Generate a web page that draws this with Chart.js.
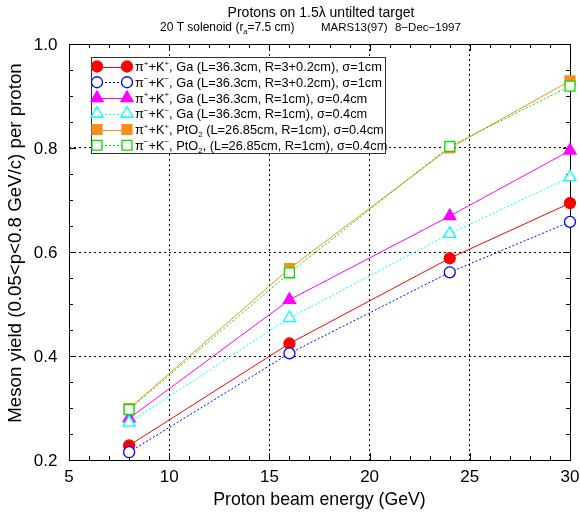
<!DOCTYPE html>
<html>
<head>
  <title>Meson yield vs proton energy</title>
  <script src="https://cdn.jsdelivr.net/npm/chart.js"></script>
  <style>body { margin: 0; background: #fff; }</style>
</head>
<body>
  <canvas id="chart" width="580" height="515"></canvas>
  <script>
    // proton beam energy (GeV)
    const energy = [8, 16, 24, 30];
    // meson yield per proton, 0.05<p<0.8 GeV/c
    const gaPosR3 = [0.228, 0.424, 0.588, 0.694];
    const gaNegR3 = [0.215, 0.405, 0.561, 0.658];
    const gaPosR1 = [0.280, 0.508, 0.669, 0.795];
    const gaNegR1 = [0.272, 0.473, 0.635, 0.744];
    const ptoPos = [0.299, 0.568, 0.800, 0.929];
    const ptoNeg = [0.297, 0.560, 0.803, 0.919];
    const seriesLabels = [
      'π^{+}+K^{+}, Ga (L=36.3cm, R=3+0.2cm), σ=1cm',
      'π^{−}+K^{−}, Ga (L=36.3cm, R=3+0.2cm), σ=1cm',
      'π^{+}+K^{+}, Ga (L=36.3cm, R=1cm), σ=0.4cm',
      'π^{−}+K^{−}, Ga (L=36.3cm, R=1cm), σ=0.4cm',
      'π^{+}+K^{+}, PtO_{2} (L=26.85cm, R=1cm), σ=0.4cm',
      'π^{−}+K^{−}, PtO_{2}, (L=26.85cm, R=1cm), σ=0.4cm'
    ];
    const xTicks = [5, 10, 15, 20, 25, 30];
    const yTicks = [0.2, 0.4, 0.6, 0.8, 1.0];
    const title1 = 'Protons on 1.5λ untilted target';
    const title2 = '20 T solenoid (r_{a}=7.5 cm)';
    const title3 = 'MARS13(97)';
    const title4 = '8−Dec−1997';
    const xTitle = 'Proton beam energy (GeV)';
    const yTitle = 'Meson yield (0.05<p<0.8 GeV/c) per proton';

    const series = [gaPosR3, gaNegR3, gaPosR1, gaNegR1, ptoPos, ptoNeg];
    const styles = [
      { color: '#ff0000', fill: '#ff0000', shape: 'circle', r: 5.5, dash: [] },
      { color: '#0000ff', fill: '#ffffff', shape: 'circle', r: 5.5, dash: [2, 2] },
      { color: '#ff00ff', fill: '#ff00ff', shape: 'triangle', r: 7, dash: [] },
      { color: '#00ffff', fill: '#ffffff', shape: 'triangle', r: 7, dash: [2, 2] },
      { color: '#f98e1d', fill: '#f98e1d', shape: 'rect', r: 7, dash: [] },
      { color: '#00e000', fill: '#ffffff', shape: 'rect', r: 7, dash: [2, 2] }
    ];
    const FONT = "'Liberation Sans', Arial, Helvetica, sans-serif";

    // text with ^{sup} and _{sub} pieces, optionally rotated
    function parseRich(s) {
      const out = [];
      const re = /([\^_])\{([^}]*)\}/g;
      let last = 0, m;
      while ((m = re.exec(s))) {
        if (m.index > last) out.push({ t: s.slice(last, m.index), k: 0 });
        out.push({ t: m[2], k: m[1] === '^' ? 1 : -1 });
        last = re.lastIndex;
      }
      if (last < s.length) out.push({ t: s.slice(last), k: 0 });
      return out;
    }
    function drawRich(ctx, s, x, y, size, opt) {
      const o = Object.assign({ align: 'left', rot: 0 }, opt);
      const parts = parseRich(s);
      const fontFor = k => (k ? size * 0.62 : size) + 'px ' + FONT;
      ctx.save();
      ctx.translate(x, y);
      if (o.rot) ctx.rotate(o.rot);
      let w = 0;
      parts.forEach(p => { ctx.font = fontFor(p.k); p.w = ctx.measureText(p.t).width; w += p.w; });
      let cx = o.align === 'center' ? -w / 2 : o.align === 'right' ? -w : 0;
      ctx.fillStyle = '#000';
      ctx.textBaseline = 'alphabetic';
      parts.forEach(p => {
        ctx.font = fontFor(p.k);
        const dy = p.k > 0 ? -size * 0.42 : p.k < 0 ? size * 0.25 : 0;
        ctx.fillText(p.t, cx, dy);
        cx += p.w;
      });
      ctx.restore();
    }

    function drawMarker(ctx, st, x, y) {
      ctx.save();
      ctx.fillStyle = st.fill;
      ctx.strokeStyle = st.color;
      ctx.lineWidth = 1.3;
      ctx.setLineDash([]);
      Chart.helpers.drawPoint(ctx, { pointStyle: st.shape, radius: st.r, rotation: 0, borderWidth: 1.3 }, x, y);
      ctx.restore();
    }

    // box around the plot with inward minor/major ticks, labels, titles and key
    const framePlugin = {
      id: 'frame',
      beforeDatasetsDraw(chart) {
        const { ctx, chartArea: a, scales: { x, y } } = chart;
        ctx.save();
        ctx.strokeStyle = '#000';
        ctx.lineWidth = 1;
        ctx.beginPath();
        for (let v = 5; v <= 30; v++) {
          const px = Math.round(x.getPixelForValue(v)) + 0.5;
          const len = v % 5 === 0 ? 7 : 4;
          ctx.moveTo(px, a.bottom); ctx.lineTo(px, a.bottom - len);
          ctx.moveTo(px, a.top); ctx.lineTo(px, a.top + len);
        }
        for (let i = 0; i <= 16; i++) {
          const v = 0.2 + i * 0.05;
          const py = Math.round(y.getPixelForValue(v)) + 0.5;
          const len = i % 4 === 0 ? 7 : 4;
          ctx.moveTo(a.left, py); ctx.lineTo(a.left + len, py);
          ctx.moveTo(a.right, py); ctx.lineTo(a.right - len, py);
        }
        ctx.stroke();
        ctx.strokeRect(Math.round(a.left) + 0.5, Math.round(a.top) + 0.5,
          Math.round(a.right - a.left), Math.round(a.bottom - a.top));
        ctx.restore();
      },
      afterDraw(chart) {
        const { ctx, scales: { x, y } } = chart;
        // tick labels
        xTicks.forEach(v => drawRich(ctx, String(v), x.getPixelForValue(v), 482, 17, { align: 'center' }));
        yTicks.forEach(v => drawRich(ctx, v.toFixed(1), 57.5, y.getPixelForValue(v) + 6, 17, { align: 'right' }));
        // axis titles
        drawRich(ctx, xTitle, 319.5, 505, 17.7, { align: 'center' });
        drawRich(ctx, yTitle, 21, 243, 18.7, { align: 'center', rot: -Math.PI / 2 });
        // titles
        drawRich(ctx, title1, 321, 17, 14, { align: 'center' });
        drawRich(ctx, title2, 160, 31, 12);
        drawRich(ctx, title3, 321, 31, 11.5);
        drawRich(ctx, title4, 395, 31, 11.5);

        // key
        ctx.save();
        ctx.fillStyle = '#fff';
        ctx.fillRect(91, 57, 294, 96);
        ctx.strokeStyle = '#333';
        ctx.lineWidth = 1;
        ctx.strokeRect(91.5, 57.5, 294, 96);
        chart.data.datasets.forEach((ds, i) => {
          const st = styles[i];
          const cy = 66.5 + i * 15.75;
          ctx.strokeStyle = st.color;
          ctx.lineWidth = 1;
          ctx.setLineDash(st.dash);
          ctx.beginPath();
          ctx.moveTo(97, Math.round(cy) + 0.5);
          ctx.lineTo(127, Math.round(cy) + 0.5);
          ctx.stroke();
          drawMarker(ctx, st, 97, cy);
          drawMarker(ctx, st, 127, cy);
          drawRich(ctx, ds.label, 135, cy + 4.5, 12.8);
        });
        ctx.restore();
      }
    };

    const datasets = series.map((vals, i) => ({
      label: seriesLabels[i],
      data: energy.map((e, j) => ({ x: e, y: vals[j] })),
      borderColor: styles[i].color,
      backgroundColor: styles[i].fill,
      borderWidth: 1,
      borderDash: styles[i].dash,
      pointStyle: styles[i].shape,
      pointRadius: styles[i].r,
      pointBorderWidth: 1.3,
      pointBorderColor: styles[i].color,
      pointBackgroundColor: styles[i].fill,
      tension: 0,
      fill: false,
      clip: false,
      order: series.length - i
    }));

    new Chart(document.getElementById('chart'), {
      type: 'line',
      data: { datasets },
      options: {
        responsive: false,
        animation: false,
        devicePixelRatio: 1,
        layout: { padding: { top: 44, right: 10, left: 0, bottom: 0 } },
        plugins: { legend: { display: false }, tooltip: { enabled: false } },
        scales: {
          x: {
            type: 'linear', min: 5, max: 30,
            afterFit: s => { s.height = 55; },
            ticks: { display: false, stepSize: 5 },
            grid: { color: '#000', lineWidth: 1, drawTicks: false },
            border: { display: false, dash: [2, 3] }
          },
          y: {
            type: 'linear', min: 0.2, max: 1.0,
            afterFit: s => { s.width = 69; },
            ticks: { display: false, stepSize: 0.2 },
            grid: { color: '#000', lineWidth: 1, drawTicks: false },
            border: { display: false, dash: [2, 3] }
          }
        }
      },
      plugins: [framePlugin]
    });
  </script>
</body>
</html>
